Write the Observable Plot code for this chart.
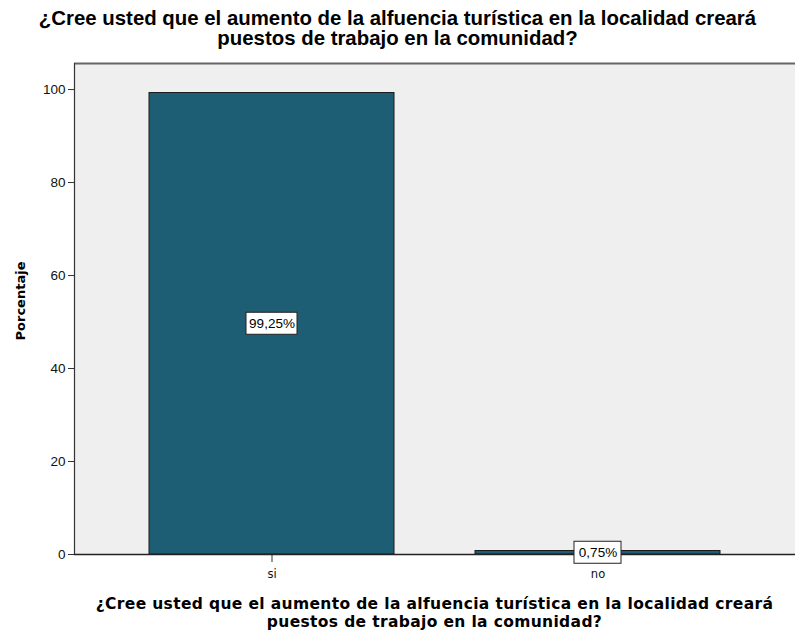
<!DOCTYPE html>
<html>
<head>
<meta charset="utf-8">
<script src="https://cdn.jsdelivr.net/npm/d3@7"></script>
<script src="https://cdn.jsdelivr.net/npm/@observablehq/plot@0.6"></script>
<style>
  body { margin: 0; background: #fff; }
  #wrap { width: 795px; height: 631px; position: relative; overflow: hidden; }
  .title { box-sizing: border-box; width: 795px; height: 62px; padding-top: 8px;
    text-align: center; font-family: "Liberation Sans", Arial, sans-serif; font-weight: bold; font-size: 20.4px; line-height: 20px; color: #000; }
  .xtitle { box-sizing: border-box; width: 795px; height: 41px; padding-left: 74px; padding-top: 5px;
    text-align: center; font-family: "DejaVu Sans", Verdana, sans-serif; font-weight: bold; font-size: 15.5px; letter-spacing: 0.35px; line-height: 18px; color: #000; }
  svg { display: block; }
</style>
</head>
<body>
<div id="wrap">
  <div class="title">¿Cree usted que el aumento de la alfuencia turística en la localidad creará<br>puestos de trabajo en la comunidad?</div>
  <div id="chart"></div>
  <div class="xtitle">¿Cree usted que el aumento de la alfuencia turística en la localidad creará<br>puestos de trabajo en la comunidad?</div>
</div>
<script>
const categories = ["si", "no"];
const percentages = [99.25, 0.75];
const valueLabels = ["99,25%", "0,75%"];
const yTicks = [0, 20, 40, 60, 80, 100];
const yLabel = "Porcentaje";

const data = categories.map((c, i) => ({cat: c, pct: percentages[i], label: valueLabels[i]}));
const yMax = 105.6;

const chart = Plot.plot({
  width: 795,
  height: 528,
  marginTop: 1,
  marginBottom: 36,
  marginLeft: 74,
  marginRight: 0,
  style: {fontFamily: "'Liberation Sans', Arial, sans-serif", fontSize: "12px", color: "#000", background: "transparent"},
  x: {domain: categories, paddingInner: 0.25, paddingOuter: 0.23, label: null},
  y: {domain: [0, yMax], label: null},
  marks: [
    Plot.frame({fill: "#efefef", stroke: null}),
    Plot.barY(data, {x: "cat", y: "pct", fill: "#1e5e74", stroke: "#1a1a1a", strokeWidth: 1}),
    Plot.ruleY([yMax], {stroke: "#666", strokeWidth: 2}),
    Plot.frame({anchor: "left", stroke: "#333", strokeWidth: 1.2}),
    Plot.axisY({ticks: yTicks, tickSize: 6, tickPadding: 3, tickFormat: d => d, label: null, stroke: "#333", fontSize: 13.5, fill: "#111"}),
    Plot.axisX({tickSize: 8, tickPadding: 7, label: null, fontFamily: "'DejaVu Sans', Verdana, sans-serif", fontSize: 11.5, stroke: "#333", fill: "#111"}),
    Plot.ruleY([0], {stroke: "#222", strokeWidth: 1.5}),
    Plot.barY(data.filter(d => d.cat === "si"), {x: "cat", y1: d => d.pct / 2, y2: d => d.pct / 2,
      fill: "#fff", stroke: "#222", strokeWidth: 1, insetLeft: 97, insetRight: 97, insetTop: -11, insetBottom: -11}),
    Plot.barY(data.filter(d => d.cat === "no"), {x: "cat", y1: d => d.pct / 2, y2: d => d.pct / 2,
      fill: "#fff", stroke: "#222", strokeWidth: 1, insetLeft: 99, insetRight: 99, insetTop: -11, insetBottom: -11}),
    Plot.text(data, {x: "cat", y: d => d.pct / 2, text: "label", fontSize: 13.5, fill: "#000"}),
    Plot.text([yLabel], {frameAnchor: "left", textAnchor: "middle", dx: -54, dy: -8, rotate: -90,
      fontFamily: "'DejaVu Sans', Verdana, sans-serif", fontWeight: "bold", fontSize: 13, fill: "#000"})
  ]
});
document.getElementById("chart").appendChild(chart);
</script>
</body>
</html>
